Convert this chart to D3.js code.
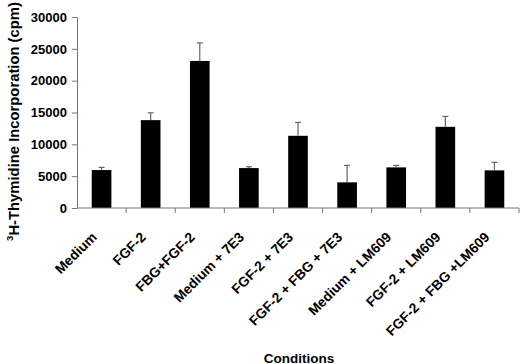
<!DOCTYPE html>
<html>
<head>
<meta charset="utf-8">
<script src="https://cdn.jsdelivr.net/npm/d3@7"></script>
<style>
  html, body { margin: 0; padding: 0; background: #fff; }
  svg text { font-family: "Liberation Sans", Arial, sans-serif; font-weight: bold; }
</style>
</head>
<body>
<div id="chart"></div>
<script>
// ── data ────────────────────────────────────────────────
const conditions = [
  "Medium", "FGF-2", "FBG+FGF-2", "Medium + 7E3", "FGF-2 + 7E3",
  "FGF-2 + FBG + 7E3", "Medium + LM609", "FGF-2 + LM609", "FGF-2 + FBG +LM609"
];
const means  = [5960, 13800, 23100, 6270, 11340, 4030, 6380, 12750, 5910];
const errors = [420, 1150, 2830, 210, 2100, 2660, 310, 1630, 1260];
const yTicks = [0, 5000, 10000, 15000, 20000, 25000, 30000];

const W = 520, H = 364;
const margin = { left: 77, right: 1, top: 17, bottom: 156 };
const plotW = W - margin.left - margin.right;
const plotH = H - margin.top - margin.bottom;

const svg = d3.select("#chart").append("svg")
  .attr("width", W).attr("height", H);

const g = svg.append("g")
  .attr("transform", `translate(${margin.left},${margin.top})`);

const x = d3.scaleBand().domain(conditions).range([0, plotW]).paddingInner(0.6).paddingOuter(0.3);
const y = d3.scaleLinear().domain([0, 30000]).range([plotH, 0]);

const axisColor = "#777";

// bars
g.selectAll("rect.bar")
  .data(conditions)
  .join("rect")
  .attr("class", "bar")
  .attr("x", d => x(d))
  .attr("y", (d, i) => y(means[i]))
  .attr("width", x.bandwidth())
  .attr("height", (d, i) => plotH - y(means[i]))
  .attr("fill", "#000");

// error bars (upper only)
const cap = 3;
conditions.forEach((c, i) => {
  const cx = x(c) + x.bandwidth() / 2;
  g.append("line")
    .attr("x1", cx).attr("x2", cx)
    .attr("y1", y(means[i])).attr("y2", y(means[i] + errors[i]))
    .attr("stroke", "#666").attr("stroke-width", 1.2);
  g.append("line")
    .attr("x1", cx - cap).attr("x2", cx + cap)
    .attr("y1", y(means[i] + errors[i])).attr("y2", y(means[i] + errors[i]))
    .attr("stroke", "#666").attr("stroke-width", 1.2);
});

// y axis
const yAxis = g.append("g")
  .call(d3.axisLeft(y).tickValues(yTicks).tickFormat(d3.format("d"))
    .tickSize(5).tickSizeOuter(0).tickPadding(5));
yAxis.select(".domain").attr("stroke", axisColor);
yAxis.selectAll(".tick line").attr("stroke", axisColor);
yAxis.selectAll(".tick text")
  .attr("font-size", 13).attr("fill", "#000")
  .attr("font-family", "'Liberation Sans', Arial, sans-serif");

// x axis: ticks on band boundaries
g.append("line")
  .attr("x1", 0).attr("x2", plotW)
  .attr("y1", plotH).attr("y2", plotH)
  .attr("stroke", axisColor);
const step = x.step();
const bounds = d3.range(conditions.length + 1).map(i => x(conditions[0]) - x.step() * x.paddingInner() / 2 + i * step);
g.selectAll("line.xtick")
  .data(bounds.slice(1))
  .join("line")
  .attr("class", "xtick")
  .attr("x1", d => d).attr("x2", d => d)
  .attr("y1", plotH).attr("y2", plotH + 5)
  .attr("stroke", axisColor);

// x labels rotated
g.selectAll("text.xlab")
  .data(conditions)
  .join("text")
  .attr("class", "xlab")
  .attr("font-size", 13.8)
  .attr("text-anchor", "end")
  .attr("transform", d => `translate(${x(d) + x.bandwidth() / 2 - 4},${plotH + 30}) rotate(-45)`)
  .text(d => d);

// axis titles
svg.append("text")
  .attr("x", margin.left + plotW / 2 + 1)
  .attr("y", 362.5)
  .attr("text-anchor", "middle")
  .attr("font-size", 13.5)
  .text("Conditions");

const yt = svg.append("text")
  .attr("transform", `translate(18.5,${margin.top + 104.5}) rotate(-90)`)
  .attr("text-anchor", "middle")
  .attr("font-size", 14.8);
yt.append("tspan").attr("font-size", 9.5).attr("dy", -5.5).text("3");
yt.append("tspan").attr("dy", 5.5).text("H-Thymidine Incorporation (cpm)");
</script>
</body>
</html>
